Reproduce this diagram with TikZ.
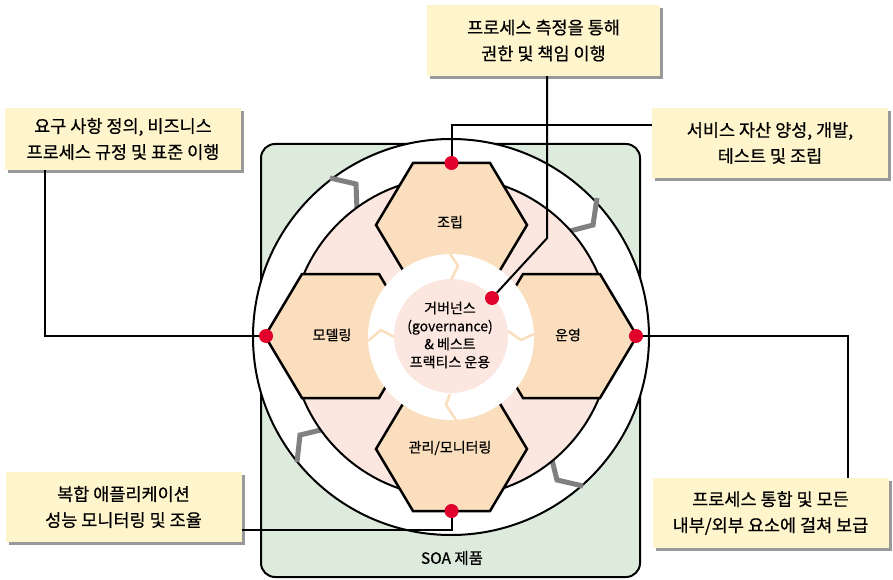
\documentclass[tikz,border=0pt]{standalone}
\usepackage{fontspec}
\setmainfont{Noto Sans CJK KR}[FakeBold=0.6]
\usetikzlibrary{shadows}
\definecolor{soagreen}{HTML}{DDEBDC}
\definecolor{ringpink}{HTML}{FCE7E0}
\definecolor{hexpeach}{HTML}{FADEBD}
\definecolor{notebg}{HTML}{FFF5CC}
\definecolor{dotred}{HTML}{E0002B}

\begin{document}
\begin{tikzpicture}[x=1pt,y=-1pt,
  hexa/.style={draw=black,line width=2.5pt,fill=hexpeach},
  hexlabel/.style={font=\fontsize{14}{16}\selectfont},
  note/.style={fill=notebg,minimum width=236pt,minimum height=70pt,align=center,inner sep=0pt,
    font=\fontsize{17.5}{26}\selectfont,
    drop shadow={shadow xshift=3pt,shadow yshift=-3pt,fill=black!40,opacity=1}},
  reddot/.style={circle,fill=dotred,minimum size=14pt,inner sep=0pt},
  gear/.style={draw=black!50,line width=5pt},
  notch/.style={draw=hexpeach,line width=2.5pt},
  link/.style={draw=black,line width=2pt}]
\useasboundingbox (0,0) rectangle (893,580);
%SOA 제품
\draw[fill=soagreen,line width=2pt,rounded corners=14pt] (261,144) rectangle (640,577);
\node[font=\fontsize{15.5}{18}\selectfont] (soa) at (452,558) {SOA 제품};
\draw[fill=white,line width=2pt] (451,337) circle (198);
%톱니
\draw[gear] (330,178) -- (356,184) -- (357,210);
\draw[gear] (597,198) -- (593,225) -- (570,231);
\draw[gear] (325,429) -- (300,435) -- (297,462);
\draw[gear] (552,460) -- (557,480) -- (583,486);
\draw[fill=ringpink,line width=2pt] (451,337) circle (160);
%육각형
\foreach \hx/\hy in {451.5/225, 340.5/336, 561.5/336, 451.5/449}
  \draw[hexa] (\hx,\hy) +(-75.5,0) -- +(-38.5,-62) -- +(38.5,-62) -- +(75.5,0)
    -- +(38.5,62) -- +(-38.5,62) -- cycle;
%가운데
\fill[white] (451,337) circle (83);
\fill[ringpink] (451,336) circle (57);
\draw[notch] (450,254) -- (458,266) -- (451,280);
\draw[notch] (368,341) -- (381,330) -- (394,337);
\draw[notch] (508,331) -- (521,340) -- (534,334);
\draw[notch] (450,394) -- (446,405) -- (456,420);
\node[hexlabel] (asm) at (450,222) {조립};
\node[hexlabel] (mdl) at (332,335) {모델링};
\node[hexlabel] (ops) at (568,335) {운영};
\node[hexlabel] (mon) at (450,448) {관리/모니터링};
\node[font=\fontsize{14}{18}\selectfont,align=center] (gov) at (450,335)
  {거버넌스\\(governance)\\\& 베스트\\프랙티스 운용};
%점
\node[reddot] (dT) at (451.5,163) {};
\node[reddot] (dL) at (266,336) {};
\node[reddot] (dR) at (636,336) {};
\node[reddot] (dB) at (451.5,511) {};
\node[reddot] (dC) at (492,298) {};
%설명
\node[note,minimum width=233pt,minimum height=71pt] (cT) at (543.5,40.5) {프로세스 측정을 통해\\권한 및 책임 이행};
\node[note,minimum height=62pt] (cTL) at (123,139) {요구 사항 정의, 비즈니스\\프로세스 규정 및 표준 이행};
\node[note] (cTR) at (770,143) {서비스 자산 양성, 개발,\\테스트 및 조립};
\node[note] (cBL) at (123.5,507) {복합 애플리케이션\\성능 모니터링 및 조율};
\node[note] (cBR) at (770.5,513) {프로세스 통합 및 모든\\내부/외부 요소에 걸쳐 보급};
%연결
\draw[link] ([xshift=3.5pt]cT.south) -- ++(0,162) -- (dC);
\draw[link] ([xshift=-78pt]cTL.south) |- (dL);
\draw[link] (dT) |- ([yshift=18pt]cTR.west);
\draw[link] ([yshift=-23pt]cBL.east) -| (dB);
\draw[link] (dR) -| ([xshift=77.5pt]cBR.north);
\end{tikzpicture}
\end{document}
